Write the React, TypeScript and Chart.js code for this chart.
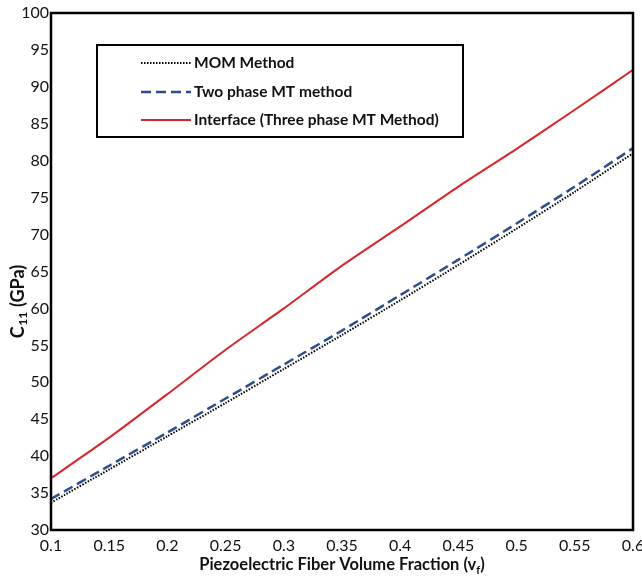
import React, { useEffect, useRef } from "react";
import { Chart, registerables } from "chart.js";

Chart.register(...registerables);

const vf = [0.1, 0.15, 0.2, 0.25, 0.3, 0.35, 0.4, 0.45, 0.5, 0.55, 0.6];
const momMethod = [33.7, 38.2, 42.7, 47.2, 51.8, 56.4, 61.1, 65.9, 70.8, 75.8, 81.0];
const twoPhaseMT = [34.2, 38.7, 43.2, 47.8, 52.4, 57.0, 61.8, 66.6, 71.5, 76.5, 81.7];
const threePhaseMT = [37.0, 42.5, 48.4, 54.4, 60.0, 65.8, 71.1, 76.5, 81.6, 86.9, 92.3];

const seriesLabels = ["MOM Method", "Two phase MT method", "Interface (Three phase MT Method)"];
const FONT = "Lato, 'Open Sans', sans-serif";

const RED = "#D7262C";
const BLUE = "#2C4E8C";

const framePlugin = {
  id: "frame",
  afterDraw(chart: any) {
    const { ctx, chartArea: a } = chart;
    ctx.save();
    // frame
    ctx.strokeStyle = "#000";
    ctx.lineWidth = 2.5;
    ctx.strokeRect(a.left, a.top, a.right - a.left, a.bottom - a.top);

    // legend box
    const lx = 97, ly = 45, lw = 366, lh = 92;
    ctx.fillStyle = "#fff";
    ctx.fillRect(lx, ly, lw, lh);
    ctx.lineWidth = 2;
    ctx.strokeRect(lx, ly, lw, lh);
    const rows = [63, 92, 120];
    const styles = [
      { c: "#000", d: [1.5, 1.5], w: 2 },
      { c: BLUE, d: [10, 5], w: 2.5 },
      { c: RED, d: [], w: 2 },
    ];
    ctx.font = `bold 15.5px ${FONT}`;
    ctx.textBaseline = "middle";
    ctx.textAlign = "left";
    rows.forEach((y, i) => {
      ctx.beginPath();
      ctx.setLineDash(styles[i].d);
      ctx.strokeStyle = styles[i].c;
      ctx.lineWidth = styles[i].w;
      ctx.moveTo(141, y);
      ctx.lineTo(191, y);
      ctx.stroke();
      ctx.setLineDash([]);
      ctx.fillStyle = "#111";
      ctx.fillText(seriesLabels[i], 194, y);
    });

    // x title
    ctx.fillStyle = "#111";
    const main = "Piezoelectric Fiber Volume Fraction (v";
    ctx.font = `bold 16.5px ${FONT}`;
    const w1 = ctx.measureText(main).width;
    ctx.font = `bold 11px ${FONT}`;
    const wf = ctx.measureText("f").width;
    ctx.font = `bold 16.5px ${FONT}`;
    const w2 = ctx.measureText(")").width;
    const tot = w1 + wf + w2;
    const x0 = (a.left + a.right) / 2 - tot / 2;
    const yT = 565;
    ctx.textAlign = "left";
    ctx.textBaseline = "middle";
    ctx.fillText(main, x0, yT);
    ctx.font = `bold 11px ${FONT}`;
    ctx.fillText("f", x0 + w1, yT + 5);
    ctx.font = `bold 16.5px ${FONT}`;
    ctx.fillText(")", x0 + w1 + wf, yT);

    // y title
    ctx.translate(18, 302);
    ctx.rotate(-Math.PI / 2);
    ctx.font = `bold 18px ${FONT}`;
    const c1 = ctx.measureText("C").width;
    ctx.font = `bold 12px ${FONT}`;
    const s1 = ctx.measureText("11").width;
    ctx.font = `bold 18px ${FONT}`;
    const r1 = ctx.measureText(" (GPa)").width;
    const ytot = c1 + s1 + r1;
    const sx = -ytot / 2;
    ctx.fillText("C", sx, 0);
    ctx.font = `bold 12px ${FONT}`;
    ctx.fillText("11", sx + c1 + 0.5, 5);
    ctx.font = `bold 18px ${FONT}`;
    ctx.fillText(" (GPa)", sx + c1 + s1 + 1, 0);
    ctx.restore();
  },
};

export default function App() {
  const ref = useRef<HTMLCanvasElement>(null);
  useEffect(() => {
    const chart = new Chart(ref.current!, {
      type: "line",
      data: {
        labels: vf,
        datasets: [
          {
            label: seriesLabels[0],
            data: vf.map((x, i) => ({ x, y: momMethod[i] })),
            borderColor: "#000",
            borderWidth: 2,
            borderDash: [1.5, 1.5],
            pointRadius: 0,
            tension: 0.2,
            fill: false,
          },
          {
            label: seriesLabels[1],
            data: vf.map((x, i) => ({ x, y: twoPhaseMT[i] })),
            borderColor: BLUE,
            borderWidth: 2.5,
            borderDash: [10, 5],
            pointRadius: 0,
            tension: 0.2,
            fill: false,
          },
          {
            label: seriesLabels[2],
            data: vf.map((x, i) => ({ x, y: threePhaseMT[i] })),
            borderColor: RED,
            borderWidth: 2,
            pointRadius: 0,
            tension: 0.2,
            fill: false,
          },
        ],
      },
      options: {
        animation: false,
        responsive: false,
        maintainAspectRatio: false,
        layout: { padding: { top: 13, right: 9, left: 0, bottom: 0 } },
        plugins: { legend: { display: false }, tooltip: { enabled: false } },
        scales: {
          x: {
            type: "linear",
            min: 0.1,
            max: 0.6,
            grid: { display: false, drawTicks: false },
            border: { display: false },
            ticks: {
              stepSize: 0.05,
              color: "#111",
              font: { family: FONT, size: 16 },
              padding: 6,
              maxRotation: 0,
              autoSkip: false,
              callback: (v: any) => String(Number(Number(v).toFixed(2))),
            },
            afterFit: (s: any) => {
              s.height = 46;
              s.paddingRight = 0;
              s.paddingLeft = 0;
            },
          },
          y: {
            min: 30,
            max: 100,
            grid: { display: false, drawTicks: false },
            border: { display: false },
            ticks: {
              stepSize: 5,
              color: "#111",
              font: { family: FONT, size: 16 },
              padding: 2,
            },
            afterFit: (s: any) => {
              s.width = 51;
              s.paddingTop = 0;
              s.paddingBottom = 0;
            },
          },
        },
      },
      plugins: [framePlugin],
    });
    return () => chart.destroy();
  }, []);
  return (
    <div style={{ position: "absolute", left: 0, top: 0, width: 642, height: 576, background: "#fff" }}>
      <canvas ref={ref} width={642} height={576} style={{ width: 642, height: 576 }} />
    </div>
  );
}
